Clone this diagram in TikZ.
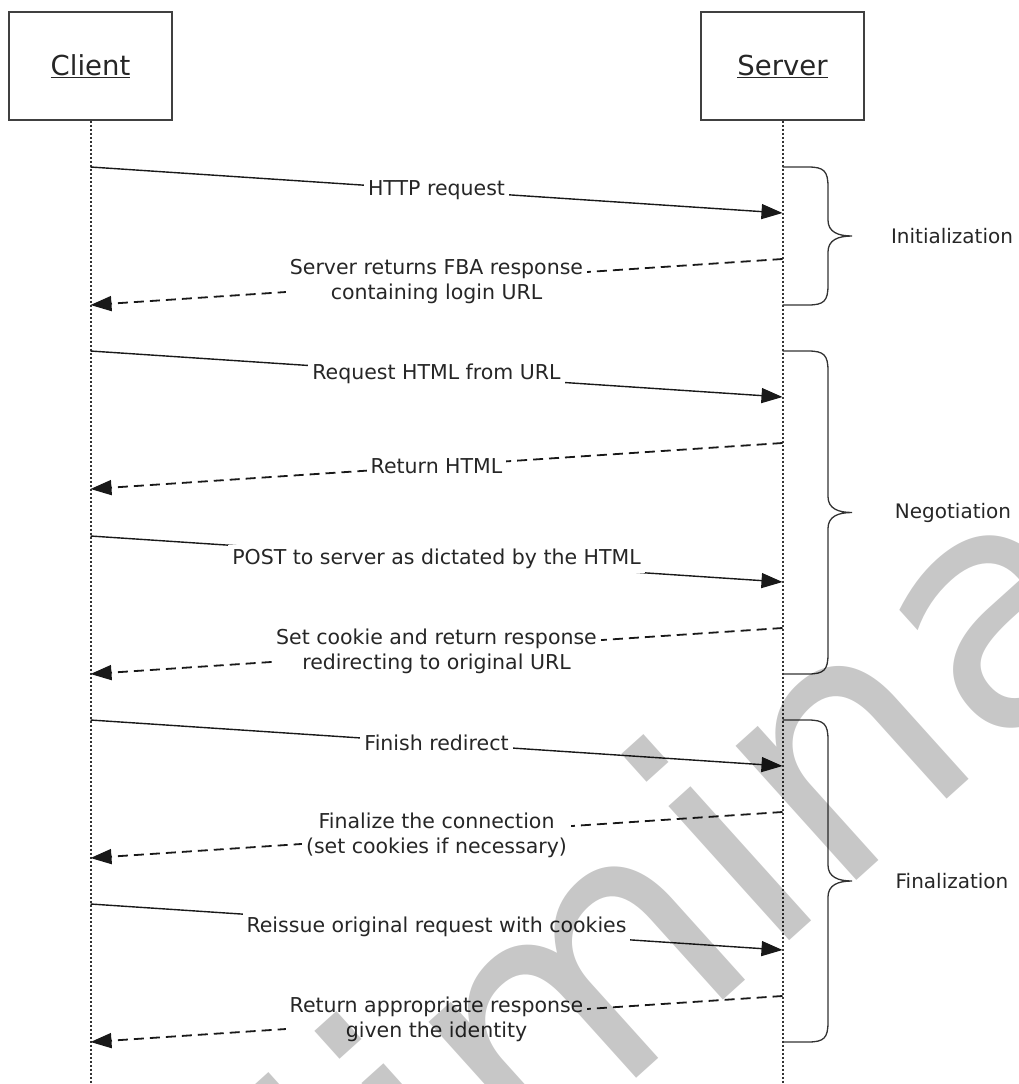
\documentclass[tikz,border=0pt]{standalone}
\usepackage{fontspec}
\setmainfont{DejaVu Sans}
\usetikzlibrary{arrows.meta}
\newcommand{\phbrace}[2]{%
  \pgfmathsetmacro\brcmid{(#1+#2)/2}%
  \draw[brc] (782.5,#1) -- (808,#1) .. controls (824,#1) and (828,#1+4) .. (828,#1+20)
    -- (828,\brcmid-16) .. controls (828,\brcmid-4) and (838,\brcmid) .. (852,\brcmid)
    .. controls (838,\brcmid) and (828,\brcmid+4) .. (828,\brcmid+16)
    -- (828,#2-20) .. controls (828,#2-4) and (824,#2) .. (808,#2) -- (782.5,#2);}
\begin{document}
\begin{tikzpicture}[x=1pt,y=-1pt,
  actor/.style={draw=black!75, line width=1.4pt, minimum width=163pt, minimum height=108pt,
    font=\fontsize{27.5}{32}\selectfont, text=black!85, inner sep=0pt},
  life/.style={black!80, line width=2pt, dash pattern=on 2pt off 2pt},
  msg/.style={black!90, line width=1.4pt, -{Triangle[length=21pt,width=15pt]}},
  ret/.style={msg, line width=1.8pt, dash pattern=on 10pt off 6pt},
  lbl/.style={fill=white, inner sep=4pt, align=center, font=\fontsize{20.5}{25}\selectfont, text=black!85},
  brc/.style={black!80, line width=1.3pt},
  phase/.style={font=\fontsize{20}{24}\selectfont, text=black!85},
  wm/.style={rotate=42, anchor=base, font=\fontsize{330}{330}\selectfont, text=black, text opacity=0.22, inner sep=0pt}
]
\useasboundingbox (0,0) rectangle (1019,1084);

\node[actor] (client) at (90.5,66) {\underline{Client}};
\node[actor] (server) at (782.5,66) {\underline{Server}};
\coordinate (cb) at (90.5,1084);
\coordinate (sb) at (782.5,1084);
\draw[life] (client.south) -- (cb);
\draw[life] (server.south) -- (sb);

\coordinate (c1) at (90.5,167);   \coordinate (s1) at (782.5,213);
\coordinate (s2) at (782.5,259);  \coordinate (c2) at (90.5,305);
\coordinate (c3) at (90.5,351);   \coordinate (s3) at (782.5,397);
\coordinate (s4) at (782.5,443);  \coordinate (c4) at (90.5,489);
\coordinate (c5) at (90.5,536);   \coordinate (s5) at (782.5,582);
\coordinate (s6) at (782.5,628);  \coordinate (c6) at (90.5,674);
\coordinate (c7) at (90.5,720);   \coordinate (s7) at (782.5,766);
\coordinate (s8) at (782.5,812);  \coordinate (c8) at (90.5,858);
\coordinate (c9) at (90.5,904);   \coordinate (s9) at (782.5,950);
\coordinate (s10) at (782.5,996); \coordinate (c10) at (90.5,1042);

\draw[msg] (c1) -- node[lbl] (m1) {HTTP request} (s1);
\draw[ret] (s2) -- node[lbl] (m2) {Server returns FBA response\\containing login URL} (c2);
\draw[msg] (c3) -- node[lbl] (m3) {Request HTML from URL} (s3);
\draw[ret] (s4) -- node[lbl] (m4) {Return HTML} (c4);
\draw[msg] (c5) -- node[lbl] (m5) {POST to server as dictated by the HTML} (s5);
\draw[ret] (s6) -- node[lbl] (m6) {Set cookie and return response\\redirecting to original URL} (c6);
\draw[msg] (c7) -- node[lbl] (m7) {Finish redirect} (s7);
\draw[ret] (s8) -- node[lbl] (m8) {Finalize the connection\\(set cookies if necessary)} (c8);
\draw[msg] (c9) -- node[lbl] (m9) {Reissue original request with cookies} (s9);
\draw[ret] (s10) -- node[lbl] (m10) {Return appropriate response\\given the identity} (c10);

\phbrace{167}{305}
\phbrace{351}{674}
\phbrace{720}{1042}
\node[phase] (pinit) at (952,236) {Initialization};
\node[phase] (pneg) at (953,512.5) {Negotiation};
\node[phase] (pfin) at (952,881) {Finalization};

\node[wm] (wmark) at (694,1027) {Preliminary};
\end{tikzpicture}
\end{document}
